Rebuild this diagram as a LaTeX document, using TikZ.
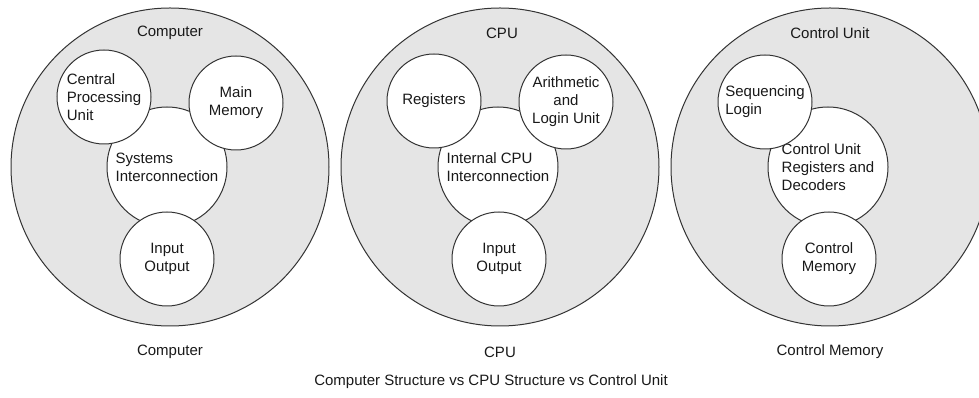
\documentclass[tikz,border=0pt]{standalone}
\usepackage{fontspec}
\setmainfont{Liberation Sans}
\begin{document}
\begin{tikzpicture}[x=0.75pt,y=-0.75pt,
  every node/.style={font=\fontsize{11.25}{13.5}\selectfont, text=black!90},
  outer/.style={circle, draw=black!80, line width=0.75pt, fill=black!10,
    minimum size=238.5pt, inner sep=0pt},
  part/.style={circle, draw=black!80, line width=0.75pt, fill=white,
    minimum size=70.5pt, inner sep=0pt, align=center},
  hub/.style={part, minimum size=90pt},
  lpart/.style={part, align=left},
  lhub/.style={hub, align=left}]
\useasboundingbox (0,0) rectangle (979,398);
\clip (0,0) rectangle (979,398);

% computer structure
\node[outer] (comp) at (170,167) {};
\node[lhub]  (sysic) at (167,167) {Systems\\Interconnection};
\node[lpart] (cpu) at (104,97) {Central\\Processing\\Unit};
\node[part]  (mem) at (236,103) {Main\\Memory};
\node[part]  (io) at (167,259) {Input\\Output};
\node (compT) at (170,33) {Computer};

% CPU structure
\node[outer] (cpuO) at (500,167) {};
\node[lhub]  (cpuic) at (498,167) {Internal CPU\\Interconnection};
\node[part]  (reg) at (434,101) {Registers};
\node[part]  (alu) at (566,102) {Arithmetic\\and\\Login Unit};
\node[part]  (cpuio) at (499,259) {Input\\Output};
\node (cpuT) at (502,33) {CPU};

% control unit structure
\node[outer] (cu) at (830,167) {};
\node[lhub]  (cureg) at (828,167) {Control Unit\\Registers and\\Decoders};
\node[lpart] (seq) at (765,102) {Sequencing\\Login};
\node[part]  (cmem) at (829,259) {Control\\Memory};
\node (cuT) at (830,33) {Control Unit};

% captions
\node (compL) at (170,352) {Computer};
\node (cpuL) at (500,352) {CPU};
\node (cuL) at (830,352) {Control Memory};
\node (title) at (491,382) {Computer Structure vs CPU Structure vs Control Unit};
\end{tikzpicture}
\end{document}
